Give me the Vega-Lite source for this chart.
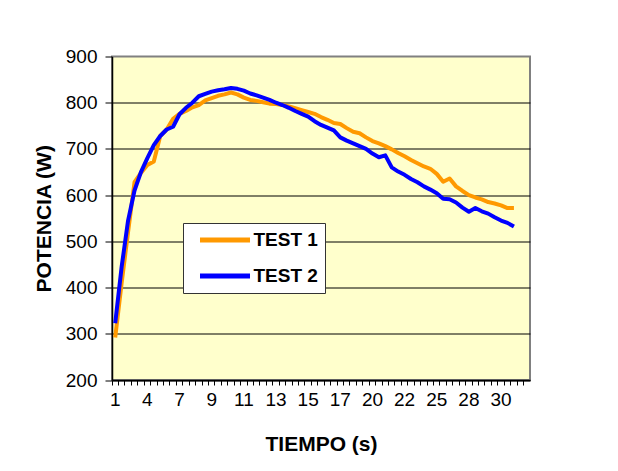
{
  "$schema": "https://vega.github.io/schema/vega-lite/v6.json",
  "width": 418,
  "height": 323.5,
  "autosize": {"type": "none"},
  "padding": {"left": 112, "top": 56.5, "right": 88, "bottom": 91},
  "background": "white",
  "config": {
    "font": "Liberation Sans",
    "view": {"fill": "#FFFFCC", "stroke": "#808080", "strokeWidth": 2}
  },
  "data": {
    "values": [
      {"t": 1, "TEST 1": 292, "TEST 2": 323},
      {"t": 1.6, "TEST 1": 410, "TEST 2": 445},
      {"t": 2.2, "TEST 1": 520, "TEST 2": 545},
      {"t": 2.8, "TEST 1": 628, "TEST 2": 610},
      {"t": 3.4, "TEST 1": 648, "TEST 2": 650},
      {"t": 4, "TEST 1": 665, "TEST 2": 680},
      {"t": 4.6, "TEST 1": 673, "TEST 2": 708},
      {"t": 5.2, "TEST 1": 728, "TEST 2": 728},
      {"t": 5.8, "TEST 1": 742, "TEST 2": 742},
      {"t": 6.4, "TEST 1": 765, "TEST 2": 748},
      {"t": 7, "TEST 1": 776, "TEST 2": 775},
      {"t": 7.4, "TEST 1": 782, "TEST 2": 789},
      {"t": 7.8, "TEST 1": 790, "TEST 2": 800},
      {"t": 8.2, "TEST 1": 795, "TEST 2": 814},
      {"t": 8.6, "TEST 1": 805, "TEST 2": 819},
      {"t": 9, "TEST 1": 810, "TEST 2": 824},
      {"t": 9.4, "TEST 1": 815, "TEST 2": 827},
      {"t": 9.8, "TEST 1": 818, "TEST 2": 829},
      {"t": 10.2, "TEST 1": 822, "TEST 2": 832},
      {"t": 10.6, "TEST 1": 818, "TEST 2": 830},
      {"t": 11, "TEST 1": 811, "TEST 2": 826},
      {"t": 11.4, "TEST 1": 806, "TEST 2": 820},
      {"t": 11.8, "TEST 1": 804, "TEST 2": 816},
      {"t": 12.2, "TEST 1": 801, "TEST 2": 811},
      {"t": 12.6, "TEST 1": 798, "TEST 2": 806},
      {"t": 13, "TEST 1": 797, "TEST 2": 800},
      {"t": 13.4, "TEST 1": 795, "TEST 2": 795},
      {"t": 13.8, "TEST 1": 792, "TEST 2": 789},
      {"t": 14.2, "TEST 1": 788, "TEST 2": 782},
      {"t": 14.6, "TEST 1": 784, "TEST 2": 776},
      {"t": 15, "TEST 1": 780, "TEST 2": 770},
      {"t": 15.4, "TEST 1": 776, "TEST 2": 760},
      {"t": 15.8, "TEST 1": 769, "TEST 2": 752},
      {"t": 16.2, "TEST 1": 763, "TEST 2": 746},
      {"t": 16.6, "TEST 1": 756, "TEST 2": 740},
      {"t": 17, "TEST 1": 754, "TEST 2": 725},
      {"t": 17.6, "TEST 1": 745, "TEST 2": 718},
      {"t": 18.2, "TEST 1": 737, "TEST 2": 712},
      {"t": 18.8, "TEST 1": 734, "TEST 2": 706},
      {"t": 19.4, "TEST 1": 725, "TEST 2": 700},
      {"t": 20, "TEST 1": 717, "TEST 2": 690},
      {"t": 20.4, "TEST 1": 712, "TEST 2": 682},
      {"t": 20.8, "TEST 1": 706, "TEST 2": 686},
      {"t": 21.2, "TEST 1": 699, "TEST 2": 660},
      {"t": 21.6, "TEST 1": 691, "TEST 2": 651},
      {"t": 22, "TEST 1": 684, "TEST 2": 644},
      {"t": 22.6, "TEST 1": 676, "TEST 2": 635},
      {"t": 23.2, "TEST 1": 669, "TEST 2": 628},
      {"t": 23.8, "TEST 1": 662, "TEST 2": 619},
      {"t": 24.4, "TEST 1": 657, "TEST 2": 612},
      {"t": 25, "TEST 1": 646, "TEST 2": 604},
      {"t": 25.6, "TEST 1": 629, "TEST 2": 592},
      {"t": 26.2, "TEST 1": 636, "TEST 2": 591},
      {"t": 26.8, "TEST 1": 619, "TEST 2": 584},
      {"t": 27.4, "TEST 1": 609, "TEST 2": 573},
      {"t": 28, "TEST 1": 600, "TEST 2": 564},
      {"t": 28.4, "TEST 1": 595, "TEST 2": 572},
      {"t": 28.8, "TEST 1": 591, "TEST 2": 565},
      {"t": 29.2, "TEST 1": 585, "TEST 2": 560},
      {"t": 29.6, "TEST 1": 582, "TEST 2": 552},
      {"t": 30, "TEST 1": 578, "TEST 2": 545},
      {"t": 30.4, "TEST 1": 572, "TEST 2": 540},
      {"t": 30.8, "TEST 1": 572, "TEST 2": 532},
      {"t": 31.2},
      {"t": 31.6}
    ]
  },
  "transform": [{"fold": ["TEST 1", "TEST 2"], "as": ["serie", "p"]}],
  "mark": {"type": "line", "strokeWidth": 4, "strokeJoin": "round", "invalid": "break-paths-show-domains"},
  "encoding": {
    "x": {
      "field": "t",
      "type": "ordinal",
      "sort": "ascending",
      "bandPosition": 0.5,
      "scale": {"type": "band", "paddingInner": 0, "paddingOuter": 0},
      "axis": {
        "title": "TIEMPO (s)",
        "bandPosition": 0,
        "labelExpr": "datum.value % 1 === 0 ? datum.label : ''",
        "labelAngle": 0,
        "labelOverlap": false,
        "labelFontSize": 19,
        "labelColor": "black",
        "labelPadding": 5,
        "tickSize": 5,
        "tickColor": "black",
        "domainColor": "black",
        "domainWidth": 1.5,
        "titleFontSize": 21,
        "titleFontWeight": "bold",
        "titleColor": "black",
        "titlePadding": 24,
        "grid": false
      }
    },
    "y": {
      "field": "p",
      "type": "quantitative",
      "scale": {"domain": [200, 900], "nice": false, "zero": false},
      "axis": {
        "title": "POTENCIA (W)",
        "values": [200, 300, 400, 500, 600, 700, 800, 900],
        "grid": true,
        "gridColor": "black",
        "gridOpacity": {"condition": {"test": "datum.value == 900", "value": 0}, "value": 1},
        "labelFontSize": 19,
        "labelColor": "black",
        "labelPadding": 8,
        "tickSize": 7,
        "tickColor": "black",
        "domainColor": "black",
        "domainWidth": 1.5,
        "titleFontSize": 21,
        "titleFontWeight": "bold",
        "titleColor": "black",
        "titlePadding": 11
      }
    },
    "color": {
      "field": "serie",
      "type": "nominal",
      "scale": {"domain": ["TEST 1", "TEST 2"], "range": ["#FF9900", "#0000FF"]},
      "legend": {
        "title": null,
        "orient": "none",
        "legendX": 71,
        "legendY": 166.5,
        "direction": "vertical",
        "symbolType": "stroke",
        "symbolSize": 2500,
        "symbolStrokeWidth": 5,
        "symbolOffset": 7.5,
        "labelFontSize": 19,
        "labelFontWeight": "bold",
        "labelColor": "black",
        "labelOffset": 1,
        "labelExpr": "datum.label + '\u00a0\u00a0\u00a0'",
        "strokeColor": "#333333",
        "fillColor": "white",
        "padding": 7,
        "clipHeight": 20,
        "rowPadding": 16
      }
    }
  }
}
